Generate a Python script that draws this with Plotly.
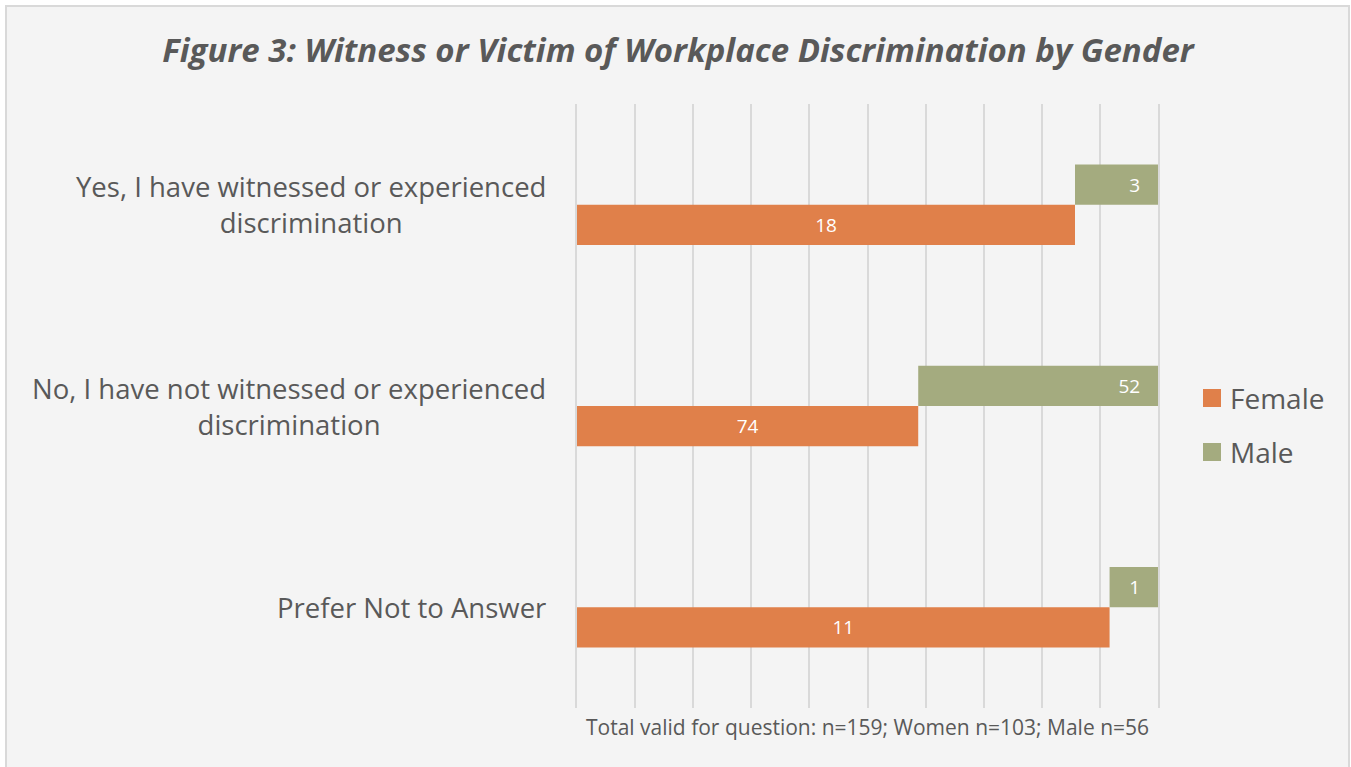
import plotly.graph_objects as go

categories = [
    "Yes, I have witnessed or experienced<br>discrimination",
    "No, I have not witnessed or experienced<br>discrimination",
    "Prefer Not to Answer",
]
female = [18, 74, 11]
male = [3, 52, 1]
series_names = ["Female", "Male"]
x_title = "Total valid for question: n=159; Women n=103; Male n=56"
title = "Figure 3: Witness or Victim of Workplace Discrimination by Gender"

totals = [f + m for f, m in zip(female, male)]
pct_f = [f / t for f, t in zip(female, totals)]
pct_m = [m / t for m, t in zip(male, totals)]

C_F = "#E0804A"
C_M = "#A4AB7F"
TXT = "#595959"
GRID = "#D9D9D9"
FONT = "Open Sans"

W, H = 1351, 767
L, R, T, B = 577, 1158, 104, 708


def px(xp):
    return (xp - L) / (R - L)


def py(yp):
    return (B - yp) / (B - T)


fig = go.Figure()
fig.add_trace(go.Bar(
    y=categories, x=pct_f, base=[0] * 3, orientation="h",
    offset=0, width=0.2, marker=dict(color=C_F, line=dict(width=0)),
    name=series_names[0], text=[str(v) for v in female],
    textposition="inside", insidetextanchor="middle",
    textfont=dict(color="white", size=19, family=FONT),
    showlegend=False, hoverinfo="skip",
))
fig.add_trace(go.Bar(
    y=categories, x=pct_m, base=pct_f, orientation="h",
    offset=-0.2, width=0.2, marker=dict(color=C_M, line=dict(width=0)),
    name=series_names[1], text=[str(v) + "\u00a0\u00a0\u00a0" for v in male],
    textposition="inside", insidetextanchor="end",
    textfont=dict(color="white", size=19, family=FONT),
    showlegend=False, hoverinfo="skip",
))

shapes = [
    dict(type="rect", xref="paper", yref="paper", layer="below",
         x0=px(6), x1=px(1349), y0=py(772), y1=py(6),
         fillcolor="#F4F4F4", line=dict(color=GRID, width=2)),
]
annotations = []
for i, (name, col) in enumerate(zip(series_names, [C_F, C_M])):
    cy = 398 + 54 * i
    shapes.append(dict(type="rect", xref="paper", yref="paper",
                       x0=px(1203), x1=px(1221), y0=py(cy + 9), y1=py(cy - 9),
                       fillcolor=col, line=dict(width=0)))
    annotations.append(dict(xref="paper", yref="paper", x=px(1228), y=py(cy),
                            xanchor="left", yanchor="middle", showarrow=False,
                            text=name, font=dict(size=28, color=TXT, family=FONT)))

for c in categories:
    annotations.append(dict(xref="paper", yref="y", x=px(548), y=c,
                            xanchor="right", yanchor="middle", align="center",
                            showarrow=False, text=c,
                            font=dict(size=27.5, color=TXT, family=FONT)))

annotations.append(dict(xref="paper", yref="paper", x=0.5, y=py(727),
                        xanchor="center", yanchor="middle", showarrow=False,
                        text=x_title, font=dict(size=21, color=TXT, family=FONT)))

fig.update_layout(
    width=W, height=H,
    margin=dict(l=L, r=W - R, t=T, b=H - B),
    paper_bgcolor="white", plot_bgcolor="rgba(0,0,0,0)",
    barmode="overlay",
    title=dict(text="<b><i>" + title + "</i></b>", x=678 / W, xref="container",
               y=1 - 50 / H, yref="container", xanchor="center", yanchor="middle",
               font=dict(size=33, color=TXT, family=FONT)),
    xaxis=dict(range=[0, 1], tick0=0, dtick=0.1, showticklabels=False,
               showgrid=True, gridcolor=GRID, gridwidth=1.5, zeroline=False,
               showline=False, fixedrange=True),
    yaxis=dict(categoryorder="array", categoryarray=categories,
               autorange=False, range=[2.5, -0.5], showticklabels=False,
               showgrid=False, zeroline=False, fixedrange=True,
               showline=True, mirror=True, linecolor=GRID, linewidth=1.5),
    shapes=shapes, annotations=annotations,
    font=dict(family=FONT, color=TXT),
)

fig.write_html("out.html", config={"displayModeBar": False},
               post_script="document.body.style.margin='0';")
